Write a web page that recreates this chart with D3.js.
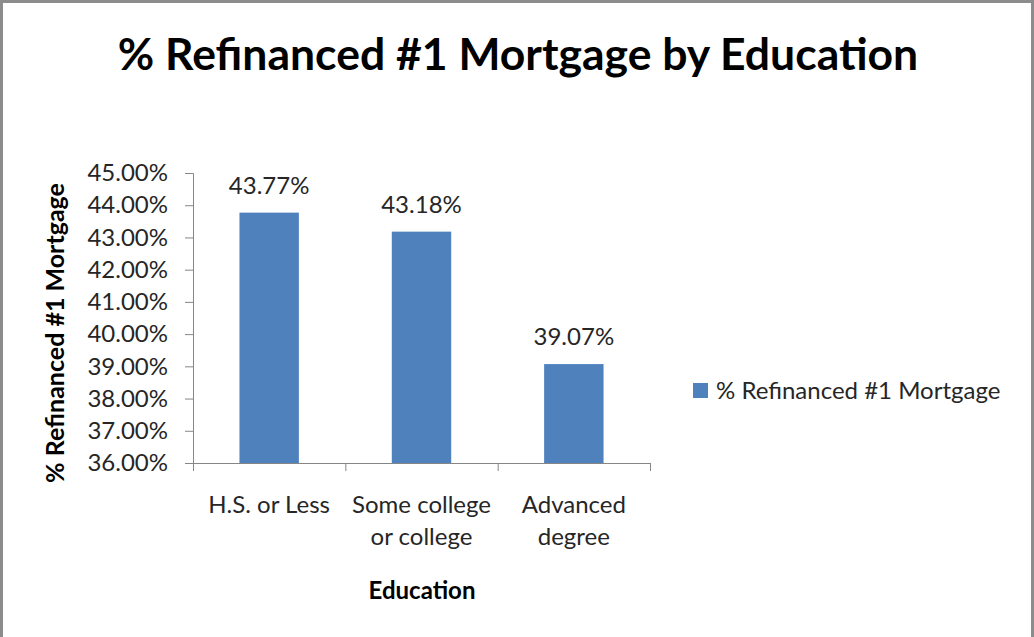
<!DOCTYPE html>
<html>
<head>
<meta charset="utf-8">
<script src="https://cdn.jsdelivr.net/npm/d3@7"></script>
<style>
  html, body { margin: 0; padding: 0; background: #fff; }
  svg { display: block; font-family: Lato, "Open Sans", sans-serif; }
</style>
</head>
<body>
<svg id="chart" width="1034" height="637"></svg>
<script>
// Chart content
const chartTitle = "% Refinanced #1 Mortgage by Education";
const seriesName = "% Refinanced #1 Mortgage";
const xAxisTitle = "Education";
const categories = [["H.S. or Less"], ["Some college", "or college"], ["Advanced", "degree"]];
const values = [43.77, 43.18, 39.07];
const yTicks = [36, 37, 38, 39, 40, 41, 42, 43, 44, 45];

const W = 1034, H = 637;
const plot = { left: 193, right: 650, top: 173, bottom: 463 };
const barColor = "#4F81BD";
const axisColor = "#868686";
const textColor = "#262626";
const bodySize = 24;

const svg = d3.select("#chart");

// Outer chart frame
svg.append("rect")
  .attr("x", 1.5).attr("y", 1.5)
  .attr("width", W - 3).attr("height", H + 4)
  .attr("fill", "#fff")
  .attr("stroke", "#8c8c8c").attr("stroke-width", 3);

// Title
svg.append("text")
  .attr("x", 518).attr("y", 70)
  .attr("text-anchor", "middle")
  .attr("font-size", 44.5).attr("font-weight", "bold")
  .attr("fill", "#000")
  .text(chartTitle);

const x = d3.scaleBand()
  .domain(categories.map((c, i) => i))
  .range([plot.left, plot.right])
  .paddingInner(0.61).paddingOuter(0.305);

const y = d3.scaleLinear()
  .domain([36, 45])
  .range([plot.bottom, plot.top]);

// Y axis
const yAxis = svg.append("g")
  .attr("transform", `translate(${plot.left},0)`)
  .call(d3.axisLeft(y).tickValues(yTicks).tickSize(8).tickPadding(17)
    .tickFormat(d => d.toFixed(2) + "%"));
yAxis.select(".domain").attr("stroke", axisColor);
yAxis.selectAll(".tick line").attr("stroke", axisColor);
yAxis.selectAll(".tick text")
  .attr("font-size", bodySize).attr("fill", textColor)
  .attr("font-family", "Lato, sans-serif");

// Bars
svg.append("g").selectAll("rect")
  .data(values)
  .join("rect")
  .attr("x", (d, i) => x(i))
  .attr("y", d => y(d))
  .attr("width", x.bandwidth())
  .attr("height", d => y(36) - y(d))
  .attr("fill", barColor);

// Data labels
svg.append("g").selectAll("text")
  .data(values)
  .join("text")
  .attr("x", (d, i) => x(i) + x.bandwidth() / 2)
  .attr("y", d => y(d) - 19)
  .attr("text-anchor", "middle")
  .attr("font-size", bodySize).attr("fill", textColor)
  .text(d => d.toFixed(2) + "%");

// X axis
const xEdges = d3.scaleLinear().domain([0, categories.length]).range([plot.left, plot.right]);
const xAxis = svg.append("g")
  .attr("transform", `translate(0,${plot.bottom})`)
  .call(d3.axisBottom(xEdges).tickValues(d3.range(categories.length + 1))
    .tickSize(8).tickFormat(""));
xAxis.select(".domain").attr("stroke", axisColor);
xAxis.selectAll(".tick line").attr("stroke", axisColor);

// Category labels
const catLabels = svg.append("g").selectAll("text")
  .data(categories)
  .join("text")
  .attr("x", (d, i) => x(i) + x.bandwidth() / 2)
  .attr("y", 513)
  .attr("text-anchor", "middle")
  .attr("font-size", bodySize).attr("fill", textColor);
catLabels.selectAll("tspan")
  .data(d => d)
  .join("tspan")
  .attr("x", function () { return this.parentNode.getAttribute("x"); })
  .attr("dy", (d, i) => i === 0 ? 0 : 32)
  .text(d => d);

// Axis titles
svg.append("text")
  .attr("x", 422).attr("y", 599)
  .attr("text-anchor", "middle")
  .attr("font-size", 24).attr("font-weight", "bold").attr("fill", "#000")
  .text(xAxisTitle);

svg.append("text")
  .attr("transform", "translate(64,333) rotate(-90)")
  .attr("text-anchor", "middle")
  .attr("font-size", 25).attr("font-weight", "bold").attr("fill", "#000")
  .text(seriesName);

// Legend
const legend = svg.append("g").attr("transform", "translate(693,383)");
legend.append("rect")
  .attr("width", 15).attr("height", 15)
  .attr("fill", barColor);
legend.append("text")
  .attr("x", 23).attr("y", 16)
  .attr("font-size", bodySize).attr("fill", textColor)
  .text(seriesName);
</script>
</body>
</html>
